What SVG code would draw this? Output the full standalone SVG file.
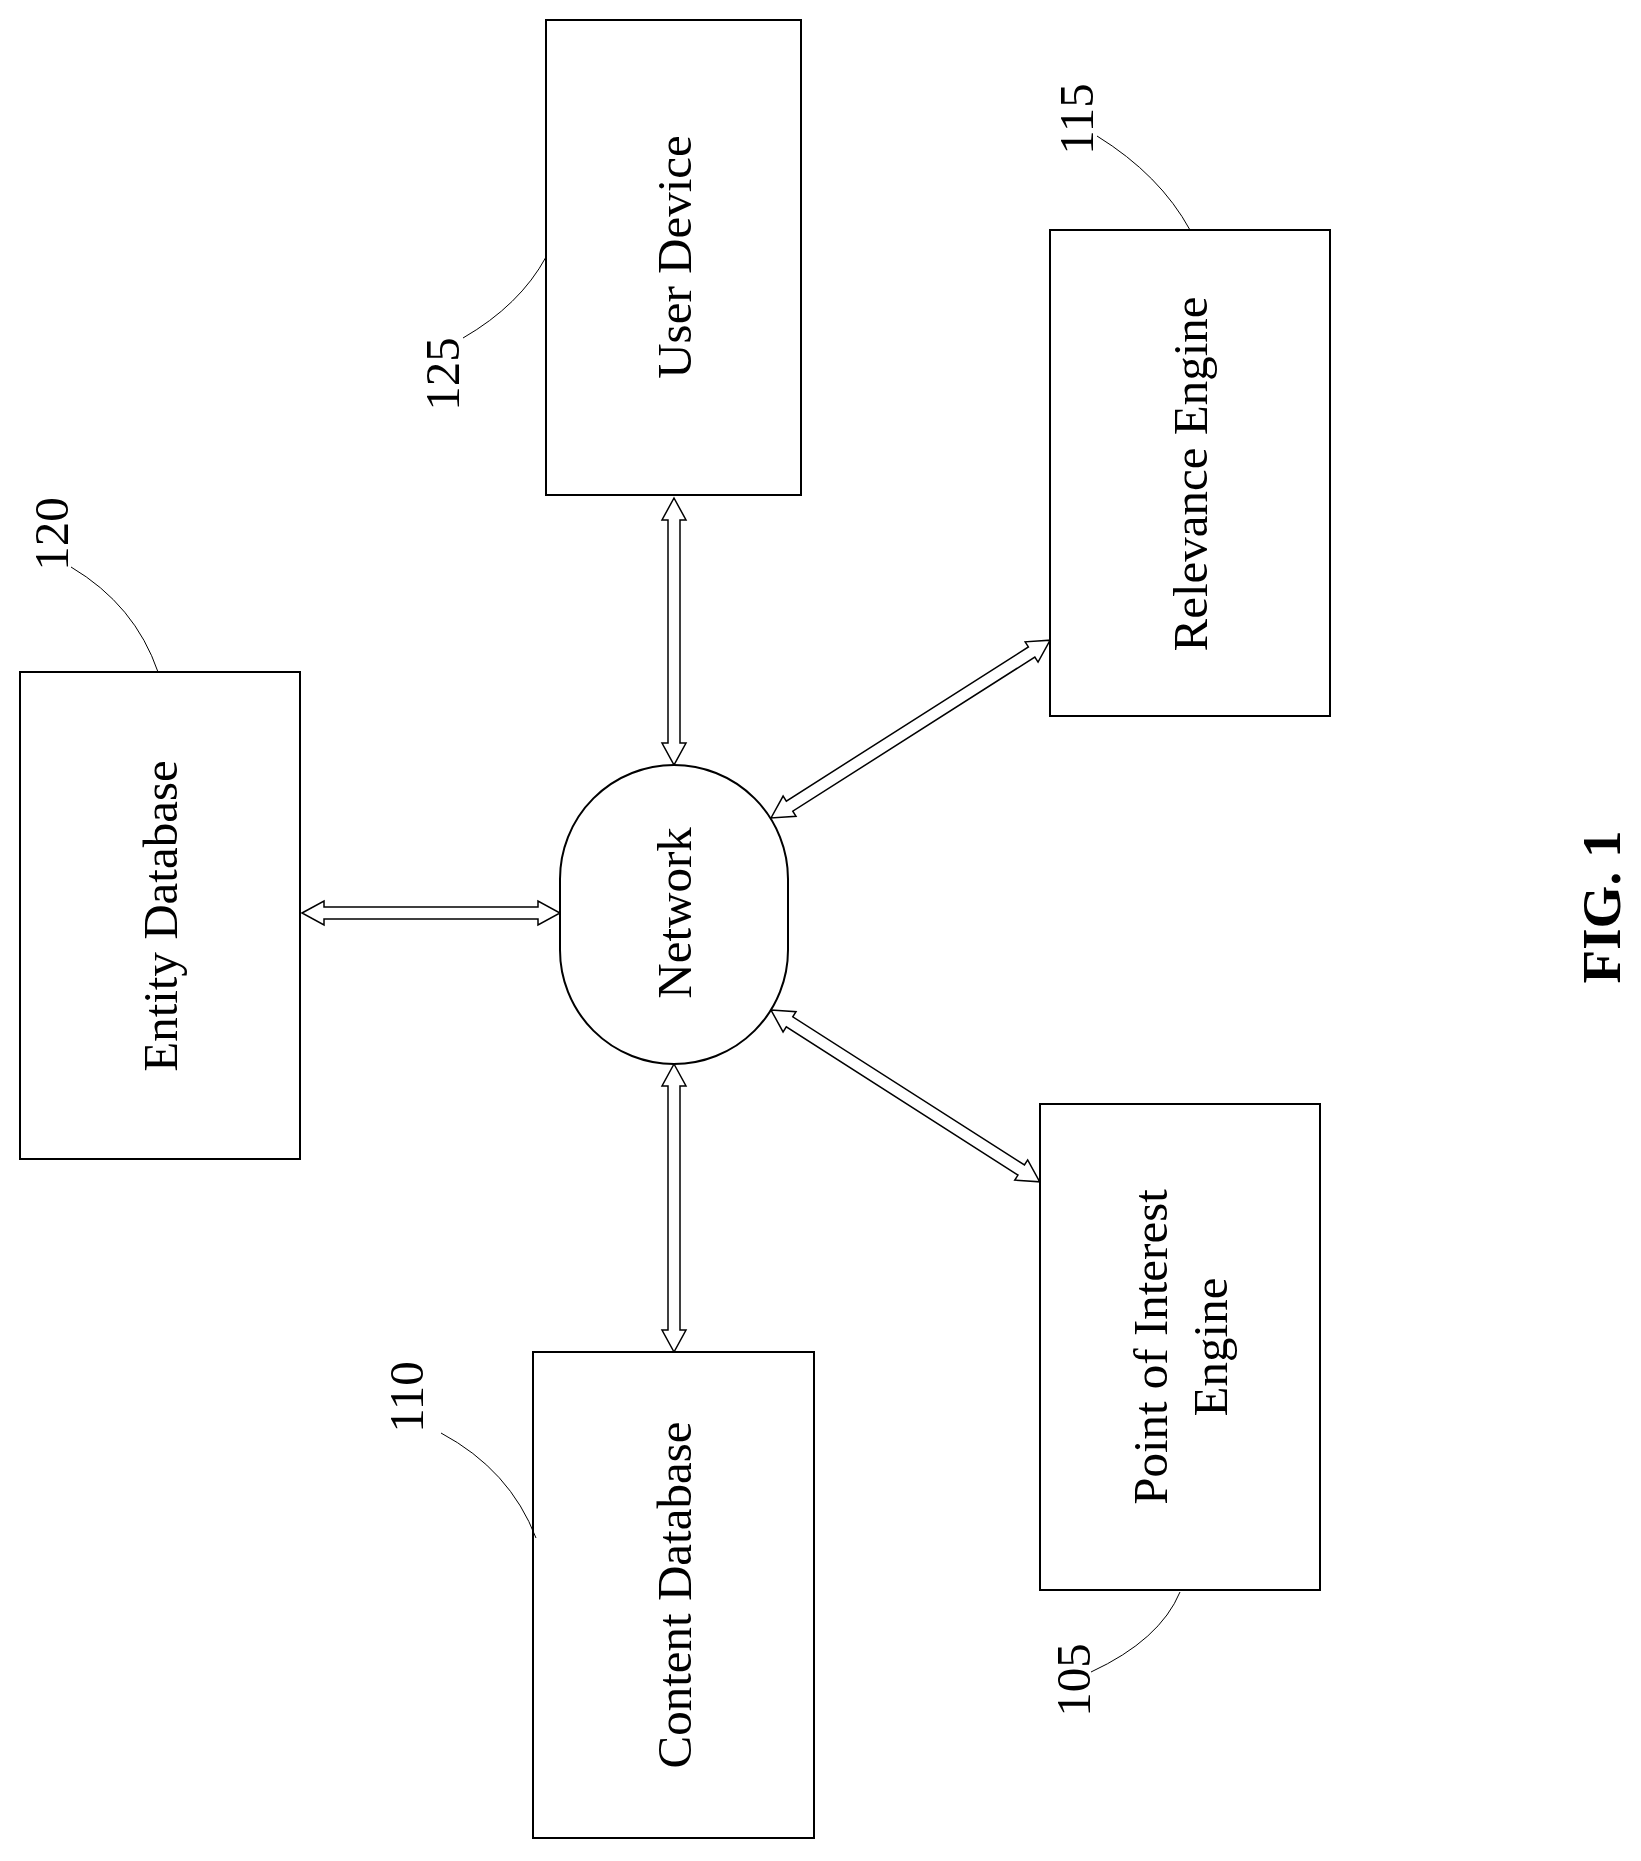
<svg xmlns="http://www.w3.org/2000/svg" width="1641" height="1861" viewBox="0 0 1641 1861">
<style>
.b{fill:#fff;stroke:#000;stroke-width:2}
.t{font-family:"Liberation Serif",serif;font-size:49px;text-anchor:middle;dominant-baseline:central}
.n{font-family:"Liberation Serif",serif;font-size:49px;text-anchor:middle;dominant-baseline:central}
.l{fill:none;stroke:#000;stroke-width:1}
.a{fill:#fff;stroke:#000;stroke-width:1.5}
</style>
<rect width="1641" height="1861" fill="#fff"/>
<g id="connectors">
<polygon class="a" transform="translate(674,498) rotate(90)" points="0,0 22,-12 22,-6 245,-6 245,-12 267,0 245,12 245,6 22,6 22,12"/>
<polygon class="a" transform="translate(674,1064) rotate(90)" points="0,0 22,-12 22,-6 266,-6 266,-12 288,0 266,12 266,6 22,6 22,12"/>
<polygon class="a" transform="translate(302,913)" points="0,0 22,-12 22,-6 236,-6 236,-12 258,0 236,12 236,6 22,6 22,12"/>
<polygon class="a" transform="translate(771,818) rotate(-32.5)" points="0,0 22,-12 22,-6 309,-6 309,-12 331,0 309,12 309,6 22,6 22,12"/>
<polygon class="a" transform="translate(771,1010) rotate(32.6)" points="0,0 22,-12 22,-6 297,-6 297,-12 319,0 297,12 297,6 22,6 22,12"/>
</g>
<g id="user-device">
<rect class="b" x="546" y="20" width="255" height="475"/>
<text class="t" transform="translate(674,257) rotate(-90)">User Device</text>
<path class="l" d="M463,338 Q520,305 546,257"/>
<text class="n" transform="translate(442,374) rotate(-90)">125</text>
</g>
<g id="relevance-engine">
<rect class="b" x="1050" y="230" width="280" height="486"/>
<text class="t" transform="translate(1190,474) rotate(-90)">Relevance Engine</text>
<path class="l" d="M1097,136 Q1160,175 1190,230"/>
<text class="n" transform="translate(1076,119) rotate(-90)">115</text>
</g>
<g id="entity-database">
<rect class="b" x="20" y="672" width="280" height="487"/>
<text class="t" transform="translate(160,916) rotate(-90)">Entity Database</text>
<path class="l" d="M71,567 Q135,605 158,672"/>
<text class="n" transform="translate(51,534) rotate(-90)">120</text>
</g>
<g id="network">
<rect class="b" x="560" y="765" width="228" height="299" rx="114" ry="114"/>
<text class="t" transform="translate(674,913) rotate(-90)">Network</text>
</g>
<g id="content-database">
<rect class="b" x="533" y="1352" width="281" height="486"/>
<text class="t" transform="translate(674,1595) rotate(-90)">Content Database</text>
<path class="l" d="M441,1433 Q510,1470 536,1538"/>
<text class="n" transform="translate(406,1397) rotate(-90)">110</text>
</g>
<g id="poi-engine">
<rect class="b" x="1040" y="1104" width="280" height="486"/>
<text class="t" transform="translate(1150,1347) rotate(-90)">Point of Interest</text>
<text class="t" transform="translate(1210,1347) rotate(-90)">Engine</text>
<path class="l" d="M1091,1672 Q1160,1640 1180,1592"/>
<text class="n" transform="translate(1073,1680) rotate(-90)">105</text>
</g>
<text transform="translate(1601,907) rotate(-90)" style="font-family:'Liberation Serif',serif;font-size:55px;font-weight:bold;text-anchor:middle;dominant-baseline:central">FIG. 1</text>
</svg>
